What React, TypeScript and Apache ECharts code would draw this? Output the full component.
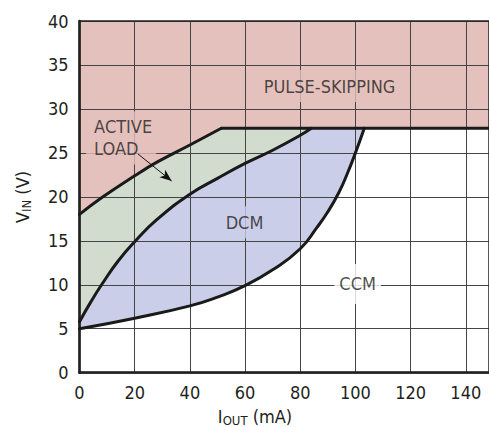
import React, { useEffect, useRef } from "react";
import * as echarts from "echarts";

// ---- data ----
const xTicks = [0, 20, 40, 60, 80, 100, 120, 140];
const yTicks = [0, 5, 10, 15, 20, 25, 30, 35, 40];
const xMax = 148.4;
const skipLevel = 27.8;
// upper boundary (active-load / pulse-skipping), curved part
const upperCurve: number[][] = [
  [0, 18.0], [8.5, 20.0], [20, 22.4], [28.4, 24.0], [40, 25.9], [51.4, 27.8],
];
// flat pulse-skipping limit (drawn from the end of the curve)
const flatLine: number[][] = [[51.4, skipLevel], [xMax, skipLevel]];
// whole-width pulse-skipping level (for the shaded region)
const flatFull: number[][] = [[0, skipLevel], [xMax, skipLevel]];
// active-load / DCM boundary
const middleCurve: number[][] = [
  [0, 5.8], [4, 8.0], [8, 10.0], [14, 12.7], [20, 14.9], [28, 17.4],
  [40, 20.3], [50, 22.1], [60, 23.8], [70, 25.3], [80, 27.0], [84, 27.8],
];
// DCM / CCM boundary
const lowerCurve: number[][] = [
  [0, 5.0], [20, 6.2], [40, 7.6], [50, 8.6], [60, 9.9], [70, 11.7], [80, 14.1],
  [86, 16.5], [90, 18.3], [94, 20.5], [97, 22.6], [100, 25.0], [103.2, 27.8],
];
const regionNames = ["PULSE-SKIPPING", "ACTIVE\nLOAD", "DCM", "CCM"];
const regionPos: number[][] = [[90.6, 32.6], [2.4, 26.7], [59.8, 17.1], [100.8, 10.1]];
const arrowFrom = [21.1, 24.9];
const arrowTo = [33.4, 21.8];

const PINK = "#e5c1bd";
const GREEN = "#d1dccf";
const BLUE = "#cbcee9";
const WHITE = "#ffffff";
const INK = "#231f20";
const FONT = "'DejaVu Sans Condensed', 'Liberation Sans Narrow', sans-serif";
const SMOOTH = 0.5;

function fillAbove(data: number[][], color: string, smooth: boolean | number) {
  return {
    type: "line",
    data,
    smooth,
    symbol: "none",
    z: 1,
    silent: true,
    lineStyle: { width: 0, opacity: 0 },
    areaStyle: { color, opacity: 1, origin: "end" },
  };
}
function stroke(data: number[][], smooth: boolean | number) {
  return {
    type: "line",
    data,
    smooth,
    symbol: "none",
    z: 5,
    silent: true,
    lineStyle: { width: 3, color: "#1a1a1a", cap: "round", join: "round" },
  };
}

export default function App() {
  const ref = useRef<HTMLDivElement>(null);
  useEffect(() => {
    if (!ref.current) return;
    const chart = echarts.init(ref.current, null, { renderer: "svg" });
    const labelBg = [PINK, PINK, BLUE, WHITE];
    const labelPad = [[5, 5], [7, 4, 2, 8], [5, 3], [9, 5]];
    const labelAlign = ["center", "left", "center", "center"];
    const axisText = { color: INK, fontSize: 18, fontFamily: FONT, margin: 11 };
    const option: any = {
      animation: false,
      grid: {
        left: 79.5, right: -1, top: 21, bottom: 54.3,
        show: true, backgroundColor: "transparent", borderColor: "#222", borderWidth: 1.5, z: 3,
      },
      xAxis: {
        type: "value", min: 0, max: xMax, interval: 20, z: 2,
        axisLine: { show: true, onZero: false, lineStyle: { color: "#111", width: 2.5 } },
        axisTick: { show: false },
        splitLine: { show: true, lineStyle: { color: "#444", width: 1 } },
        axisLabel: {
          ...axisText,
          showMaxLabel: false,
          formatter: (v: number) => (xTicks.includes(v) ? String(v) : ""),
        },
      },
      yAxis: {
        type: "value", min: 0, max: 40, interval: 5, z: 2,
        axisLine: { show: true, onZero: false, lineStyle: { color: "#111", width: 2.5 } },
        axisTick: { show: false },
        splitLine: { show: true, lineStyle: { color: "#444", width: 1 } },
        axisLabel: {
          ...axisText,
          formatter: (v: number) => (yTicks.includes(v) ? String(v) : ""),
        },
      },
      series: [
        fillAbove(lowerCurve, BLUE, SMOOTH),
        fillAbove(middleCurve, GREEN, SMOOTH),
        fillAbove(flatFull, PINK, false),
        fillAbove(upperCurve, PINK, SMOOTH),
        stroke(upperCurve, SMOOTH),
        stroke(flatLine, false),
        stroke(middleCurve, SMOOTH),
        stroke(lowerCurve, SMOOTH),
        {
          type: "scatter",
          z: 4,
          symbolSize: 0,
          silent: true,
          data: regionNames.map((n, i) => ({
            name: n,
            value: regionPos[i],
            label: {
              show: true,
              position: "inside",
              formatter: "{b}",
              align: labelAlign[i],
              verticalAlign: "middle",
              color: INK,
              fontSize: 18,
              lineHeight: 22,
              fontFamily: FONT,
              backgroundColor: labelBg[i],
              padding: labelPad[i],
            },
          })),
          markLine: {
            silent: true,
            symbol: ["none", "arrow"],
            symbolSize: [7, 12],
            label: { show: false },
            lineStyle: { color: "#111", width: 1, type: "solid" },
            data: [[{ coord: arrowFrom }, { coord: arrowTo }]],
          },
        },
      ],
      graphic: [
        {
          type: "text",
          x: 255,
          y: 416,
          style: {
            text: "{m|I}{s|OUT}{m| (mA)}",
            align: "center",
            verticalAlign: "middle",
            rich: {
              m: { fontSize: 18, fontFamily: FONT, fill: INK, lineHeight: 22 },
              s: { fontSize: 13, fontFamily: FONT, fill: INK, lineHeight: 12, verticalAlign: "bottom" },
            },
          },
        },
        {
          type: "text",
          x: 22,
          y: 197,
          rotation: Math.PI / 2,
          style: {
            text: "{m|V}{s|IN}{m| (V)}",
            align: "center",
            verticalAlign: "middle",
            rich: {
              m: { fontSize: 18, fontFamily: FONT, fill: INK, lineHeight: 22 },
              s: { fontSize: 13, fontFamily: FONT, fill: INK, lineHeight: 12, verticalAlign: "bottom" },
            },
          },
        },
      ],
    };
    chart.setOption(option);
    return () => chart.dispose();
  }, []);
  return (
    <div
      ref={ref}
      style={{ position: "fixed", left: 0, top: 0, width: 489, height: 427, background: "#fff" }}
    />
  );
}
